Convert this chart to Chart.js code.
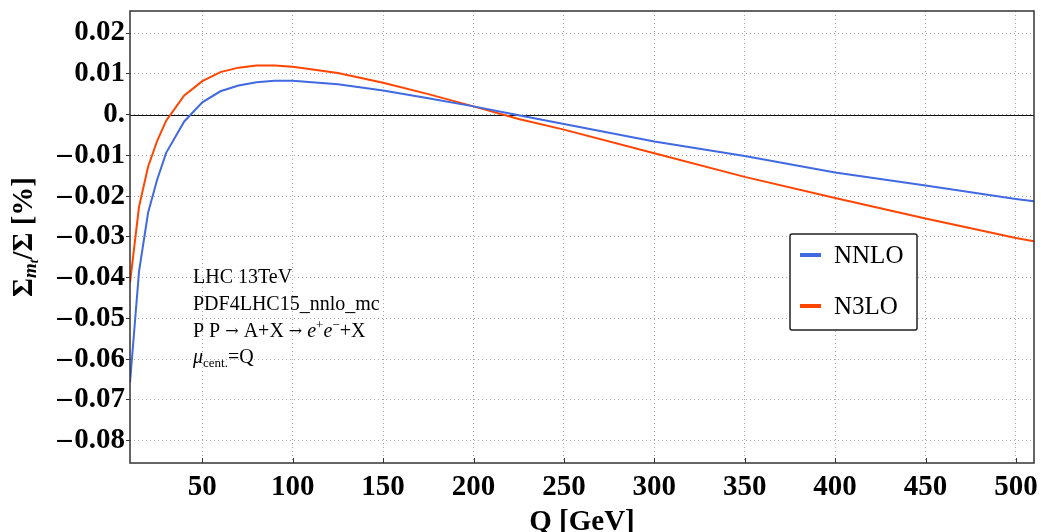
<!DOCTYPE html>
<html>
<head>
<meta charset="utf-8">
<script src="https://cdn.jsdelivr.net/npm/chart.js@4/dist/chart.umd.min.js"></script>
<style>
html,body{margin:0;padding:0;background:#fff;}
#wrap{width:1041px;height:532px;position:relative;}
</style>
</head>
<body>
<div id="wrap"><canvas id="c" width="1041" height="532"></canvas></div>
<script>
// ---- data ----
const qValues = [10,15,20,25,30,40,50,60,70,80,90,100,125,150,175,200,225,250,300,350,400,450,500,510];
const nnloValues = [-0.0658,-0.0385,-0.0241,-0.0160,-0.0094,-0.0017,0.0030,0.0057,0.0071,0.0079,0.0083,0.0083,0.0074,0.0059,0.0040,0.0020,-0.0002,-0.0023,-0.0066,-0.0102,-0.0142,-0.0174,-0.0207,-0.0213];
const n3loValues = [-0.0413,-0.0226,-0.0128,-0.0065,-0.0015,0.0047,0.0082,0.0104,0.0115,0.0120,0.0120,0.0117,0.0102,0.0078,0.0050,0.0020,-0.0011,-0.0037,-0.0095,-0.0153,-0.0205,-0.0255,-0.0303,-0.0311];
const seriesLabels = ['NNLO','N3LO'];
const xTicks = [50,100,150,200,250,300,350,400,450,500];
const yTicks = [-0.08,-0.07,-0.06,-0.05,-0.04,-0.03,-0.02,-0.01,0,0.01,0.02];
const annotationLines = ['LHC 13TeV','PDF4LHC15_nnlo_mc'];

const BLUE = 'rgb(65,105,225)';
const RED = 'rgb(255,69,0)';
const SERIF = '"Liberation Serif", "Times New Roman", serif';

function pts(ys){ return qValues.map((q,i)=>({x:q,y:ys[i]})); }

function fmtY(v){
  if (Math.abs(v) < 1e-9) return '0.';
  const s = Math.abs(v).toFixed(2);
  return v < 0 ? '\u2013\u200A' + s : s;
}

const decor = {
  id:'decor',
  beforeDatasetsDraw(chart){
    const {ctx, chartArea:a, scales:{x,y}} = chart;
    ctx.save();
    const y0 = y.getPixelForValue(0);
    ctx.strokeStyle = '#111';
    ctx.lineWidth = 1;
    ctx.beginPath(); ctx.moveTo(a.left, Math.round(y0)+0.5); ctx.lineTo(a.right, Math.round(y0)+0.5); ctx.stroke();
    ctx.restore();
  },
  afterDraw(chart){
    const {ctx, chartArea:a, scales:{x,y}} = chart;
    ctx.save();
    // frame
    ctx.strokeStyle = '#333';
    ctx.lineWidth = 1.5;
    ctx.strokeRect(a.left, a.top, a.right-a.left, a.bottom-a.top);
    // inner x ticks
    ctx.lineWidth = 1;
    xTicks.forEach(t=>{
      const px = Math.round(x.getPixelForValue(t))+0.5;
      ctx.beginPath(); ctx.moveTo(px, a.bottom); ctx.lineTo(px, a.bottom-5); ctx.stroke();
    });

    // x title
    ctx.fillStyle = '#000';
    ctx.font = 'bold 29px ' + SERIF;
    ctx.textAlign = 'center';
    ctx.textBaseline = 'alphabetic';
    ctx.fillText('Q [GeV]', (a.left+a.right)/2, 530);

    // y title with subscript
    ctx.save();
    ctx.translate(25, (a.top+a.bottom)/2);
    ctx.rotate(-Math.PI/2);
    const big = 'bold 29px ' + SERIF;
    const sub = 'bold italic 19px ' + SERIF;
    const sub2 = 'bold italic 13px ' + SERIF;
    const parts = [
      {t:'\u03A3', f:big, dy:0},
      {t:'m', f:sub, dy:6},
      {t:'t', f:sub2, dy:10},
      {t:'/\u03A3 [%]', f:big, dy:0}
    ];
    let total = 0;
    parts.forEach(p=>{ ctx.font=p.f; p.w=ctx.measureText(p.t).width; total+=p.w; });
    let cx = -total/2;
    ctx.textAlign='left'; ctx.textBaseline='middle';
    parts.forEach(p=>{ ctx.font=p.f; ctx.fillText(p.t, cx, p.dy); cx+=p.w; });
    ctx.restore();

    // annotation text
    ctx.textAlign='left'; ctx.textBaseline='alphabetic';
    const reg = '20px ' + SERIF;
    const it = 'italic 20px ' + SERIF;
    const sm = '13px ' + SERIF;
    const arr = '16px "DejaVu Serif", serif';
    const ax = 193;
    ctx.font = reg;
    ctx.fillText(annotationLines[0], ax, 283);
    ctx.fillText(annotationLines[1], ax, 310);
    const drawRun = (runs, x0, yb) => {
      let cx2 = x0;
      runs.forEach(r=>{ ctx.font=r.f; ctx.fillText(r.t, cx2, yb + (r.dy||0)); cx2 += ctx.measureText(r.t).width; });
    };
    drawRun([
      {t:'P P ', f:reg},
      {t:'\u2192', f:arr, dy:-1},
      {t:' A+X ', f:reg},
      {t:'\u2192', f:arr, dy:-1},
      {t:' ', f:reg},
      {t:'e', f:it},
      {t:'+', f:sm, dy:-8},
      {t:'e', f:it},
      {t:'\u2212', f:sm, dy:-8},
      {t:'+X', f:reg}
    ], ax, 337);
    drawRun([
      {t:'\u03BC', f:it},
      {t:'cent.', f:sm, dy:4},
      {t:'=Q', f:reg}
    ], ax, 363);

    // legend
    const lx=790, ly=234, lw=127, lh=96;
    ctx.fillStyle='#fff';
    ctx.strokeStyle='#222';
    ctx.lineWidth=1.5;
    ctx.beginPath();
    if (ctx.roundRect) ctx.roundRect(lx,ly,lw,lh,2); else ctx.rect(lx,ly,lw,lh);
    ctx.fill(); ctx.stroke();
    const ds = chart.data.datasets;
    const rows = [255, 306];
    ds.forEach((d,i)=>{
      ctx.strokeStyle = d.borderColor;
      ctx.lineWidth = 4;
      ctx.beginPath(); ctx.moveTo(800, rows[i]); ctx.lineTo(821, rows[i]); ctx.stroke();
      ctx.fillStyle='#000';
      ctx.font = '25px ' + SERIF;
      ctx.textBaseline='middle';
      ctx.fillText(d.label, 834, rows[i]+1);
    });
    ctx.restore();
  }
};

new Chart(document.getElementById('c'), {
  type:'line',
  data:{
    datasets:[
      {label:seriesLabels[0], data:pts(nnloValues), borderColor:BLUE, borderWidth:2, pointRadius:0, tension:0, fill:false},
      {label:seriesLabels[1], data:pts(n3loValues), borderColor:RED, borderWidth:2, pointRadius:0, tension:0, fill:false}
    ]
  },
  options:{
    responsive:false,
    animation:false,
    events:[],
    layout:{padding:{left:0,right:7,top:11,bottom:0}},
    plugins:{legend:{display:false}, tooltip:{enabled:false}, title:{display:false}},
    scales:{
      x:{
        type:'linear', min:10, max:510,
        afterBuildTicks(s){ s.ticks = xTicks.map(v=>({value:v})); },
        afterFit(s){ s.height = 69; s.paddingLeft = 0; s.paddingRight = 0; },
        grid:{color:'#a8a8a8', drawTicks:false, lineWidth:1},
        border:{display:false, dash:[1,3]},
        ticks:{font:{family:SERIF, size:29, weight:'bold'}, color:'#000', padding:7, maxRotation:0, autoSkip:false}
      },
      y:{
        type:'linear', min:-0.0855, max:0.0254,
        afterBuildTicks(s){ s.ticks = yTicks.map(v=>({value:v})); },
        afterFit(s){ s.width = 130; s.paddingTop = 0; s.paddingBottom = 0; },
        grid:{color:'#a8a8a8', tickLength:4, tickColor:'#333', lineWidth:1},
        border:{display:false, dash:[1,3]},
        ticks:{font:{family:SERIF, size:29, weight:'bold'}, color:'#000', padding:1, autoSkip:false, callback:(v)=>fmtY(v)}
      }
    }
  },
  plugins:[decor]
});
</script>
</body>
</html>
